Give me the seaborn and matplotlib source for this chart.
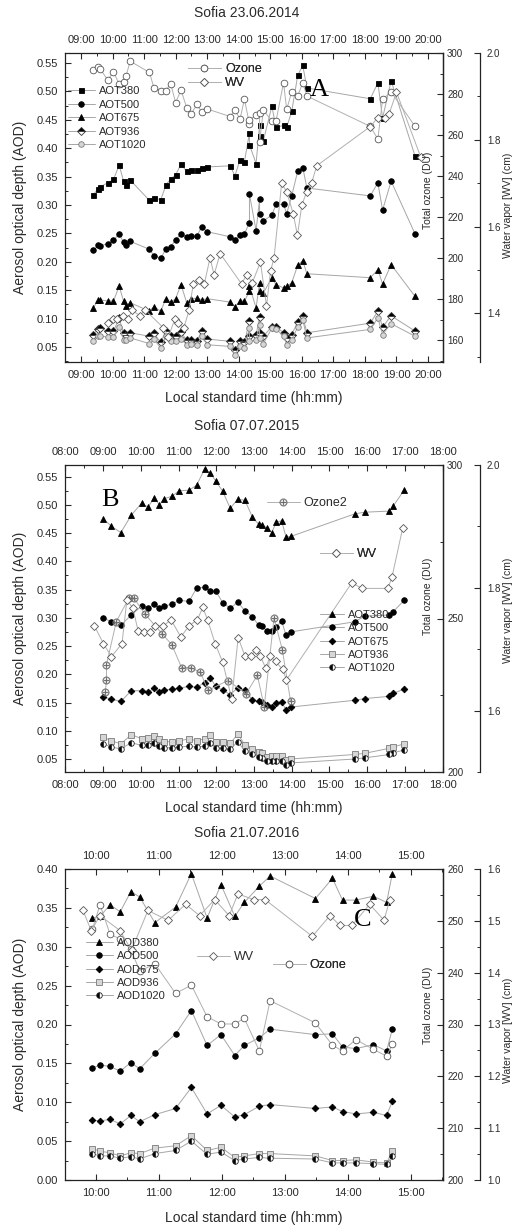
import matplotlib
matplotlib.use('Agg')
import matplotlib.pyplot as plt
import seaborn as sns
from matplotlib.ticker import MultipleLocator, FormatStrFormatter, FuncFormatter, FixedLocator

sns.set_style('ticks')
plt.rcParams['font.family'] = ['Liberation Sans', 'DejaVu Sans']
plt.rcParams['mathtext.fontset'] = 'dejavusans'

# ---------------- Panel A : Sofia 23.06.2014 ----------------
t14 = [9.39, 9.55, 9.60, 9.85, 10.03, 10.21, 10.35, 10.43, 10.56, 11.17, 11.31, 11.53, 11.69, 11.84,
       12.00, 12.17, 12.35, 12.49, 12.67, 12.83, 13.00, 13.73, 13.88, 14.04, 14.18, 14.34, 14.34, 14.55,
       14.66, 14.66, 14.78, 15.05, 15.18, 15.42, 15.52, 15.68, 15.87, 16.03, 16.16, 18.17, 18.41, 18.56,
       18.83, 19.59]
aot380_14 = [0.318, 0.329, 0.332, 0.339, 0.345, 0.370, 0.342, 0.335, 0.344, 0.308, 0.313, 0.309, 0.335, 0.346,
             0.353, 0.372, 0.359, 0.362, 0.362, 0.365, 0.367, 0.369, 0.351, 0.380, 0.376, 0.427, 0.406, 0.373,
             0.440, 0.422, 0.413, 0.474, 0.437, 0.440, 0.437, 0.465, 0.528, 0.546, 0.506, 0.487, 0.515, 0.453,
             0.519, 0.386]
aot500_14 = [0.220, 0.229, 0.228, 0.232, 0.238, 0.249, 0.234, 0.229, 0.236, 0.222, 0.211, 0.206, 0.223, 0.226,
             0.239, 0.249, 0.244, 0.245, 0.245, 0.262, 0.253, 0.244, 0.239, 0.248, 0.249, 0.269, 0.319, 0.255,
             0.310, 0.285, 0.272, 0.282, 0.301, 0.301, 0.285, 0.316, 0.360, 0.366, 0.330, 0.316, 0.339, 0.291,
             0.342, 0.249]
aot675_14 = [0.119, 0.133, 0.133, 0.131, 0.131, 0.157, 0.131, 0.123, 0.128, 0.113, 0.121, 0.113, 0.135, 0.129,
             0.135, 0.160, 0.128, 0.135, 0.136, 0.133, 0.135, 0.129, 0.121, 0.131, 0.131, 0.148, 0.157, 0.119,
             0.163, 0.148, 0.145, 0.172, 0.160, 0.154, 0.157, 0.163, 0.194, 0.202, 0.179, 0.172, 0.186, 0.161,
             0.195, 0.139]
aot936_14 = [0.072, 0.082, 0.083, 0.078, 0.078, 0.101, 0.074, 0.071, 0.075, 0.069, 0.074, 0.058, 0.079, 0.069,
             0.069, 0.076, 0.062, 0.062, 0.060, 0.078, 0.064, 0.060, 0.045, 0.060, 0.058, 0.096, 0.069, 0.071,
             0.103, 0.074, 0.069, 0.086, 0.086, 0.075, 0.066, 0.072, 0.094, 0.104, 0.075, 0.092, 0.113, 0.085,
             0.105, 0.078]
aot1020_14 = [0.060, 0.070, 0.070, 0.067, 0.067, 0.086, 0.062, 0.062, 0.066, 0.056, 0.064, 0.048, 0.069, 0.060,
              0.060, 0.064, 0.054, 0.056, 0.053, 0.069, 0.054, 0.051, 0.036, 0.052, 0.048, 0.083, 0.060, 0.062,
              0.088, 0.066, 0.056, 0.083, 0.082, 0.069, 0.054, 0.063, 0.085, 0.098, 0.066, 0.081, 0.101, 0.072,
              0.091, 0.069]
ozone14 = [291.9, 293.2, 292.4, 286.8, 290.8, 284.9, 286.0, 288.9, 296.0, 290.5, 283.1, 281.6, 281.6, 285.1,
           275.8, 281.9, 273.4, 270.1, 275.0, 271.0, 272.7, 269.0, 272.2, 267.7, 277.4, 265.4, 267.3, 269.8,
           270.6, 256.4, 272.2, 266.9, 266.6, 285.5, 272.5, 281.1, 279.2, 285.5, 279.0, 264.2, 258.0, 277.4,
           281.1, 264.2]
twv14 = [9.87, 10.02, 10.13, 10.34, 10.50, 10.61, 10.87, 11.03, 11.61, 11.77, 11.98, 12.08, 12.26, 12.43,
         12.56, 12.75, 12.91, 13.09, 13.22, 13.41, 14.09, 14.25, 14.43, 14.69, 14.88, 15.01, 15.12, 15.36,
         15.52, 15.73, 15.86, 16.00, 16.15, 16.31, 16.47, 18.16, 18.40, 18.63, 18.77, 19.00, 19.77]
wv14 = [1.377, 1.386, 1.388, 1.395, 1.388, 1.407, 1.395, 1.408, 1.367, 1.346, 1.388, 1.377, 1.367, 1.408,
        1.468, 1.477, 1.468, 1.528, 1.489, 1.538, 1.468, 1.489, 1.471, 1.518, 1.417, 1.498, 1.528, 1.700,
        1.680, 1.629, 1.580, 1.649, 1.680, 1.700, 1.740, 1.830, 1.850, 1.850, 1.860, 1.910, 1.760]

# ---------------- Panel B : Sofia 07.07.2015 ----------------
t15 = [9.01, 9.22, 9.47, 9.75, 10.02, 10.19, 10.36, 10.49, 10.62, 10.82, 11.02, 11.28, 11.48, 11.69, 11.84,
       11.98, 12.17, 12.37, 12.57, 12.76, 12.96, 13.12, 13.21, 13.34, 13.47, 13.59, 13.73, 13.85, 13.97,
       15.67, 15.93, 16.59, 16.69, 16.98]
aot380_15 = [0.475, 0.462, 0.451, 0.482, 0.503, 0.496, 0.513, 0.500, 0.511, 0.515, 0.525, 0.526, 0.535, 0.563,
             0.556, 0.543, 0.524, 0.494, 0.510, 0.508, 0.478, 0.466, 0.465, 0.459, 0.451, 0.469, 0.472, 0.443,
             0.444, 0.484, 0.487, 0.489, 0.498, 0.526]
aot500_15 = [0.300, 0.293, 0.287, 0.305, 0.321, 0.317, 0.325, 0.317, 0.321, 0.324, 0.331, 0.329, 0.353, 0.354,
             0.347, 0.348, 0.327, 0.317, 0.328, 0.312, 0.302, 0.287, 0.285, 0.277, 0.277, 0.283, 0.295, 0.269,
             0.275, 0.293, 0.303, 0.305, 0.311, 0.331]
aot675_15 = [0.160, 0.156, 0.152, 0.171, 0.171, 0.168, 0.176, 0.168, 0.172, 0.174, 0.175, 0.179, 0.177, 0.185,
             0.194, 0.179, 0.172, 0.164, 0.176, 0.172, 0.154, 0.152, 0.151, 0.146, 0.142, 0.150, 0.151, 0.137,
             0.142, 0.154, 0.157, 0.161, 0.166, 0.174]
aot936_15 = [0.089, 0.082, 0.077, 0.093, 0.086, 0.088, 0.091, 0.086, 0.080, 0.081, 0.082, 0.086, 0.082, 0.086,
             0.093, 0.080, 0.080, 0.078, 0.094, 0.075, 0.068, 0.063, 0.060, 0.054, 0.056, 0.056, 0.056, 0.048,
             0.050, 0.058, 0.060, 0.069, 0.071, 0.077]
aot1020_15 = [0.077, 0.071, 0.068, 0.079, 0.074, 0.075, 0.078, 0.073, 0.070, 0.070, 0.071, 0.073, 0.071, 0.073,
              0.079, 0.069, 0.069, 0.067, 0.081, 0.064, 0.058, 0.054, 0.051, 0.046, 0.046, 0.046, 0.047, 0.040,
              0.043, 0.050, 0.052, 0.058, 0.061, 0.066]
tozone15 = [9.06, 9.09, 9.09, 9.35, 9.69, 9.82, 10.10, 10.56, 10.82, 11.08, 11.32, 11.58, 11.78, 12.31, 12.79,
            13.09, 13.27, 13.53, 13.75, 13.97]
ozone15 = [226.1, 230.1, 235.0, 249.0, 256.8, 256.6, 251.6, 245.1, 241.5, 234.0, 234.0, 232.5, 226.6, 229.8,
           225.5, 231.5, 221.2, 250.1, 239.9, 223.0]
twv15 = [8.77, 9.01, 9.22, 9.50, 9.63, 9.79, 9.93, 10.08, 10.23, 10.38, 10.60, 10.80, 11.06, 11.28, 11.50,
         11.64, 11.77, 11.97, 12.17, 12.41, 12.58, 12.76, 12.93, 13.04, 13.17, 13.31, 13.43, 13.57, 13.76,
         13.86, 15.59, 15.87, 16.55, 16.66, 16.94]
wv15 = [1.738, 1.709, 1.688, 1.709, 1.780, 1.767, 1.729, 1.728, 1.728, 1.738, 1.738, 1.748, 1.720, 1.738,
        1.748, 1.768, 1.748, 1.709, 1.679, 1.619, 1.719, 1.689, 1.689, 1.699, 1.689, 1.669, 1.689, 1.680,
        1.667, 1.650, 1.808, 1.799, 1.799, 1.818, 1.897]

# ---------------- Panel C : Sofia 21.07.2016 ----------------
t16 = [9.95, 10.07, 10.23, 10.39, 10.56, 10.70, 10.94, 11.27, 11.52, 11.77, 11.99, 12.21, 12.36, 12.60,
       12.77, 13.49, 13.76, 13.92, 14.13, 14.41, 14.62, 14.71]
aod380_16 = [0.337, 0.339, 0.354, 0.345, 0.371, 0.364, 0.331, 0.351, 0.394, 0.337, 0.380, 0.339, 0.357, 0.378,
             0.391, 0.362, 0.388, 0.360, 0.360, 0.365, 0.357, 0.394]
aod500_16 = [0.144, 0.148, 0.146, 0.140, 0.151, 0.143, 0.163, 0.188, 0.218, 0.173, 0.187, 0.160, 0.173, 0.183,
             0.194, 0.187, 0.188, 0.171, 0.169, 0.174, 0.166, 0.194]
aod675_16 = [0.077, 0.076, 0.078, 0.072, 0.083, 0.075, 0.084, 0.092, 0.119, 0.085, 0.096, 0.081, 0.084, 0.095,
             0.097, 0.092, 0.094, 0.088, 0.085, 0.087, 0.083, 0.101]
aod936_16 = [0.040, 0.037, 0.035, 0.031, 0.035, 0.034, 0.041, 0.044, 0.057, 0.038, 0.042, 0.029, 0.031, 0.034,
             0.034, 0.031, 0.025, 0.025, 0.026, 0.023, 0.022, 0.037]
aod1020_16 = [0.034, 0.031, 0.031, 0.028, 0.030, 0.027, 0.034, 0.038, 0.050, 0.033, 0.036, 0.025, 0.027, 0.029,
              0.028, 0.027, 0.022, 0.022, 0.022, 0.021, 0.020, 0.031]
ozone16 = [248.4, 253.1, 247.4, 246.5, 244.5, 240.3, 241.7, 236.0, 237.6, 231.5, 230.1, 230.1, 231.2, 224.9,
           234.6, 230.3, 226.0, 224.9, 227.1, 225.2, 223.9, 226.2]
twv16 = [9.80, 9.93, 10.07, 10.39, 10.57, 10.83, 11.15, 11.43, 11.65, 11.89, 12.12, 12.26, 12.51, 12.69,
         13.44, 13.72, 13.88, 14.07, 14.35, 14.58, 14.67]
wv16 = [1.520, 1.481, 1.510, 1.481, 1.443, 1.520, 1.501, 1.532, 1.510, 1.541, 1.510, 1.552, 1.541, 1.541,
        1.470, 1.510, 1.491, 1.491, 1.532, 1.501, 1.541]

titles = ['Sofia 23.06.2014', 'Sofia 07.07.2015', 'Sofia 21.07.2016']
panel_letters = ['A', 'B', 'C']
aot_labels = ['AOT380', 'AOT500', 'AOT675', 'AOT936', 'AOT1020']
aod_labels = ['AOD380', 'AOD500', 'AOD675', 'AOD936', 'AOD1020']

# ---------------- layout helpers ----------------
W, H = 516, 1230
L, R = 65, 443
TXT = '#2a2a2a'
LINE = '#a6a6a6'
fig = plt.figure(figsize=(W / 100, H / 100), dpi=100)


def make_panel(top, bottom):
    ax = fig.add_axes([L / W, 1 - bottom / H, (R - L) / W, (bottom - top) / H])
    axo = ax.twinx()
    axw = ax.twinx()
    return ax, axo, axw


def px2ax(top, bottom, x, y):
    return (x - L) / (R - L), (bottom - y) / (bottom - top)


def series(ax, x, y, marker, ms, mfc, mec, label, fill='full', alt='white', lc=LINE, mew=0.6, lw=0.7):
    sns.lineplot(x=x, y=y, ax=ax, sort=False, estimator=None, legend=False, color=lc, linewidth=lw,
                 marker=marker, markersize=ms, markerfacecolor=mfc, markeredgecolor=mec,
                 markeredgewidth=mew, fillstyle=fill, markerfacecoloralt=alt)
    ln = ax.get_lines()[-1]
    ln.set_label(label)
    return ln


def style_main(ax, xlim, xmaj, ylim, ymaj, ymin):
    ax.set_xlim(*xlim)
    ax.set_ylim(*ylim)
    ax.xaxis.set_major_locator(FixedLocator(xmaj))
    ax.xaxis.set_minor_locator(MultipleLocator(0.5))
    ax.xaxis.set_major_formatter(FuncFormatter(lambda v, p: f"{int(round(v)):02d}:00"))
    ax.yaxis.set_major_locator(MultipleLocator(ymaj))
    ax.yaxis.set_minor_locator(MultipleLocator(ymin))
    ax.yaxis.set_major_formatter(FormatStrFormatter('%.2f'))
    ax.tick_params(axis='x', which='both', direction='in', top=True, bottom=True,
                   labeltop=True, labelbottom=True, labelsize=8, pad=6, colors=TXT)
    ax.tick_params(axis='y', which='both', direction='in', left=True, right=False,
                   labelsize=8, pad=5, colors=TXT)
    ax.tick_params(which='major', length=4.5, width=0.8)
    ax.tick_params(which='minor', length=2.5, width=0.7)
    ax.set_xlabel('')
    ax.set_ylabel('')
    for s in ax.spines.values():
        s.set_visible(True)
        s.set_color('#222222')
        s.set_linewidth(0.9)


def style_right(axr, ylim, maj, mnr, fmt, pos=None, pad=3):
    axr.set_ylim(*ylim)
    axr.yaxis.set_major_locator(MultipleLocator(maj))
    axr.yaxis.set_minor_locator(MultipleLocator(mnr))
    axr.yaxis.set_major_formatter(FormatStrFormatter(fmt))
    axr.tick_params(axis='y', which='both', direction='in', right=True, left=False,
                    labelsize=7, pad=pad, colors=TXT)
    axr.tick_params(which='major', length=4.5, width=0.8)
    axr.tick_params(which='minor', length=2.5, width=0.7)
    axr.set_ylabel('')
    for side in ['left', 'top', 'bottom']:
        axr.spines[side].set_visible(False)
    axr.spines['right'].set_color('#222222')
    axr.spines['right'].set_linewidth(0.9)
    if pos is not None:
        axr.spines['right'].set_position(('axes', pos))


def legend(axh, handles, top, bottom, x, y, size, spacing, hl=2.4):
    bx, by = px2ax(top, bottom, x, y)
    lg = axh.legend(handles=handles, loc='upper left', bbox_to_anchor=(bx, by),
                    bbox_transform=axh.transAxes, frameon=False, borderaxespad=0, borderpad=0,
                    handlelength=hl, handletextpad=0.35, labelspacing=spacing, fontsize=size,
                    numpoints=1)
    for t in lg.get_texts():
        t.set_color(TXT)
    axh.add_artist(lg)
    return lg


def texts(top, bottom, title, title_y, xlabel_y, oz_y, wv_y, letter, lx, ly):
    fig.text(247 / W, 1 - title_y / H, title, ha='center', va='center', fontsize=10, color=TXT)
    fig.text(254 / W, 1 - xlabel_y / H, 'Local standard time (hh:mm)', ha='center', va='center',
             fontsize=10, color=TXT)
    fig.text(20 / W, 1 - (top + bottom) / 2 / H, 'Aerosol optical depth (AOD)', rotation=90,
             ha='center', va='center', fontsize=10, color=TXT)
    fig.text(428 / W, 1 - oz_y / H, 'Total ozone (DU)', rotation=90, ha='center', va='center',
             fontsize=7.5, color=TXT)
    fig.text(508 / W, 1 - wv_y / H, 'Water vapor [WV] (cm)', rotation=90, ha='center', va='center',
             fontsize=7.5, color=TXT)
    fig.text(lx / W, 1 - ly / H, letter, ha='center', va='center', fontsize=19,
             family=['Liberation Serif', 'DejaVu Serif'], color='black')


WVPOS = (480 - L) / (R - L)
OZ_KW = dict(marker='o', ms=4.8, mfc='white', mec='#555555')
WV_KW = dict(marker='D', ms=4.2, mfc='white', mec='#555555')

# ================= Panel A =================
T1, B1 = 53, 362
ax, axo, axw = make_panel(T1, B1)
h = [series(ax, t14, aot380_14, 's', 3.6, 'black', 'black', aot_labels[0]),
     series(ax, t14, aot500_14, 'o', 4.0, 'black', 'black', aot_labels[1]),
     series(ax, t14, aot675_14, '^', 4.4, 'black', 'black', aot_labels[2]),
     series(ax, t14, aot936_14, 'D', 3.8, 'black', '#333333', aot_labels[3], fill='top'),
     series(ax, t14, aot1020_14, 'o', 4.0, '#d6d6d6', '#7a7a7a', aot_labels[4])]
ho = [series(axo, t14, ozone14, label='Ozone', lc='#b0b0b0', **OZ_KW),
      series(axw, twv14, wv14, label='WV', lc='#b0b0b0', **WV_KW)]
style_main(ax, (8.493, 20.475), list(range(9, 21)), (0.0236, 0.5676), 0.05, 0.025)
style_right(axo, (149.3, 300), 20, 10, '%d')
style_right(axw, (1.288, 2.0), 0.2, 0.1, '%.1f', pos=WVPOS, pad=5)
legend(axw, h, T1, B1, 68, 86, 8, 0.32)
legend(axw, ho, T1, B1, 188, 63, 9, 0.2, hl=2.6)
texts(T1, B1, titles[0], 13, 398, 190, 205, panel_letters[0], 319, 90)

# ================= Panel B =================
T2, B2 = 465, 772
ax, axo, axw = make_panel(T2, B2)
h = [series(ax, t15, aot380_15, '^', 4.4, 'black', 'black', aot_labels[0]),
     series(ax, t15, aot500_15, 'o', 4.0, 'black', 'black', aot_labels[1]),
     series(ax, t15, aot675_15, 'D', 3.4, 'black', 'black', aot_labels[2]),
     series(ax, t15, aot936_15, 's', 3.8, '#d6d6d6', '#7a7a7a', aot_labels[3]),
     series(ax, t15, aot1020_15, 'o', 4.0, 'black', '#222222', aot_labels[4], fill='left')]
ho1 = [series(axo, tozone15, ozone15, r'$\oplus$', 5.5, '#6e6e6e', '#6e6e6e', 'Ozone2', lc='#b0b0b0', mew=0.2)]
ho2 = [series(axw, twv15, wv15, label='WV', lc='#b0b0b0', **WV_KW)]
style_main(ax, (7.99, 18.01), list(range(8, 19)), (0.027, 0.5706), 0.05, 0.025)
style_right(axo, (200, 300), 50, 25, '%d')
style_right(axw, (1.5, 2.0), 0.2, 0.1, '%.1f', pos=WVPOS, pad=5)
legend(axw, h, T2, B2, 320, 610, 8, 0.3, hl=2.2)
legend(axw, ho1, T2, B2, 267, 497, 9, 0.2, hl=2.6)
legend(axw, ho2, T2, B2, 320, 548, 9, 0.2, hl=2.6)
texts(T2, B2, titles[1], 426, 808, 596, 610, panel_letters[1], 110, 500)

# ================= Panel C =================
T3, B3 = 869, 1180
ax, axo, axw = make_panel(T3, B3)
h = [series(ax, t16, aod380_16, '^', 4.4, 'black', 'black', aod_labels[0]),
     series(ax, t16, aod500_16, 'o', 4.0, 'black', 'black', aod_labels[1]),
     series(ax, t16, aod675_16, 'D', 3.4, 'black', 'black', aod_labels[2]),
     series(ax, t16, aod936_16, 's', 3.8, '#d6d6d6', '#7a7a7a', aod_labels[3]),
     series(ax, t16, aod1020_16, 'o', 4.0, 'black', '#222222', aod_labels[4], fill='left')]
ho1 = [series(axw, twv16, wv16, label='WV', lc='#b0b0b0', **WV_KW)]
ho2 = [series(axo, t16, ozone16, label='Ozone', lc='#b0b0b0', **OZ_KW)]
style_main(ax, (9.514, 15.515), list(range(10, 16)), (0.0, 0.40), 0.05, 0.025)
style_right(axo, (200, 260), 10, 5, '%d')
style_right(axw, (1.0, 1.6), 0.1, 0.05, '%.1f', pos=WVPOS, pad=5)
legend(axw, h, T3, B3, 86, 938, 8, 0.3, hl=2.4)
legend(axw, ho1, T3, B3, 197, 951, 9, 0.2, hl=2.6)
legend(axw, ho2, T3, B3, 273, 959, 9, 0.2, hl=2.6)
texts(T3, B3, titles[2], 833, 1218, 1005, 1030, panel_letters[2], 363, 920)

fig.savefig('out.png', dpi=100)
